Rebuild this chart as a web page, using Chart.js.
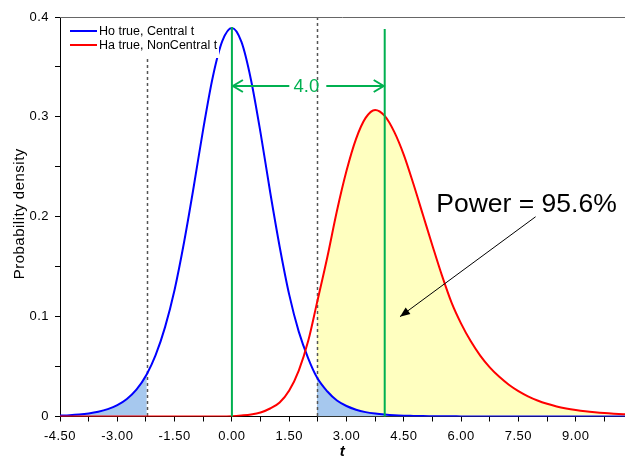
<!DOCTYPE html>
<html lang="en">
<head>
<meta charset="UTF-8">
<title>Power of the t test</title>
<script src="https://cdn.jsdelivr.net/npm/chart.js@4.4.1/dist/chart.umd.min.js"></script>
<style>
  body { margin: 0; background: #fff; }
  #wrap { width: 625px; height: 459px; }
</style>
</head>
<body>
<div id="wrap"><canvas id="powerChart" width="625" height="459"></canvas></div>
<script>
const tValues = [-4.5, -4.25, -4, -3.75, -3.5, -3.25, -3, -2.75, -2.5, -2.228,
  -2, -1.75, -1.5, -1.25, -1, -0.75, -0.5, -0.25, 0, 0.25, 0.5, 0.75, 1, 1.25, 1.5, 1.75, 2,
  2.228, 2.5, 2.75, 3, 3.25, 3.5, 3.75, 4, 4.25, 4.5, 4.75, 5, 5.25, 5.5, 5.75, 6, 6.25, 6.5,
  6.75, 7, 7.25, 7.5, 7.75, 8, 8.25, 8.5, 8.75, 9, 9.25, 9.5, 9.75, 10, 10.25, 10.5];

// Ho true, central t
const centralT = [0.0009, 0.0013, 0.0020, 0.0031, 0.0048, 0.0074, 0.0114, 0.0176, 0.0269, 0.0424,
  0.0611, 0.0895, 0.127, 0.175, 0.230, 0.288, 0.340, 0.376, 0.389, 0.375, 0.337, 0.284, 0.225, 0.170, 0.122, 0.085, 0.058,
  0.039, 0.025, 0.016, 0.0105, 0.0068, 0.0044, 0.0029, 0.0019, 0.0012, 0.0008, 0.0006, 0.0004, 0.0003, 0.0002, 0.0002, 0.0001, 0.0001, 0.0001,
  0.0001, 0, 0, 0, 0, 0, 0, 0, 0, 0, 0, 0, 0, 0, 0, 0];

// Ha true, noncentral t
const nonCentralT = [0, 0, 0, 0, 0, 0, 0, 0, 0, 0,
  0, 0, 0, 0, 0, 0, 0, 0, 0.0003, 0.001, 0.002, 0.004, 0.008, 0.014, 0.026, 0.046, 0.076,
  0.114, 0.160, 0.206, 0.246, 0.278, 0.299, 0.307, 0.301, 0.285, 0.262, 0.233, 0.202, 0.171, 0.141, 0.114, 0.093, 0.0755, 0.061,
  0.0492, 0.0397, 0.0318, 0.0254, 0.0202, 0.016, 0.0127, 0.0101, 0.0081, 0.0065, 0.0052, 0.0042, 0.0034, 0.0028, 0.0023, 0.0019];

const xTickValues = [-4.5, -3.75, -3, -2.25, -1.5, -0.75, 0, 0.75, 1.5, 2.25, 3, 3.75, 4.5, 5.25, 6, 6.75, 7.5, 8.25, 9, 9.75];
const yTickValues = [0, 0.05, 0.1, 0.15, 0.2, 0.25, 0.3, 0.35, 0.4];

const critT = 2.228;     // two-sided 5% critical value
const shift = 4.0;       // distance between the two centres
const powerText = 'Power = 95.6%';
const yTitle = 'Probability density';

const FONT = "'Liberation Sans', Arial, sans-serif";

function pts(ys, keep) {
  const out = [];
  tValues.forEach((t, i) => { if (!keep || keep(t)) out.push({ x: t, y: ys[i] }); });
  return out;
}

function arrowHead(ctx, x, y, ang, len, half, filled) {
  const bx = x - Math.cos(ang) * len, by = y - Math.sin(ang) * len;
  const nx = -Math.sin(ang) * half, ny = Math.cos(ang) * half;
  ctx.beginPath();
  ctx.moveTo(bx + nx, by + ny);
  ctx.lineTo(x, y);
  ctx.lineTo(bx - nx, by - ny);
  if (filled) { ctx.closePath(); ctx.fill(); } else ctx.stroke();
}

const overlay = {
  id: 'overlay',
  beforeDraw(chart) {
    // excel-ish loose spacing for the tick labels
    chart.ctx.letterSpacing = '0.5px';
  },
  beforeDatasetDraw(chart, args) {
    // dotted critical-value lines, over the shading but under the curves
    if (args.index !== 1) return;
    const { ctx, chartArea: ca, scales: { x } } = chart;
    ctx.save();
    ctx.strokeStyle = '#555';
    ctx.lineWidth = 1.5;
    ctx.setLineDash([3, 3]);
    [-critT, critT].forEach(v => {
      const px = Math.round(x.getPixelForValue(v)) + 0.5;
      ctx.beginPath();
      ctx.moveTo(px, ca.top);
      ctx.lineTo(px, ca.bottom);
      ctx.stroke();
    });
    ctx.restore();
  },
  afterDatasetsDraw(chart) {
    const { ctx, chartArea: ca, scales: { x, y } } = chart;
    ctx.save();
    ctx.letterSpacing = '0px';

    // top frame line
    ctx.strokeStyle = '#666';
    ctx.lineWidth = 1;
    ctx.beginPath();
    ctx.moveTo(ca.left, ca.top + 0.5);
    ctx.lineTo(ca.right, ca.top + 0.5);
    ctx.stroke();

    // legend box (white, hides what is behind it)
    ctx.fillStyle = '#fff';
    ctx.fillRect(ca.left + 1, ca.top + 1, 158, 40);
    ctx.lineWidth = 2;
    ctx.font = '12.5px ' + FONT;
    ctx.textBaseline = 'middle';
    ctx.fillStyle = '#000';
    [['#0000ff', 'Ho true, Central t', 14], ['#ff0000', 'Ha true, NonCentral t', 28]].forEach(([c, txt, dy]) => {
      ctx.strokeStyle = c;
      ctx.beginPath();
      ctx.moveTo(ca.left + 10, ca.top + dy);
      ctx.lineTo(ca.left + 37, ca.top + dy);
      ctx.stroke();
      ctx.fillText(txt, ca.left + 39, ca.top + dy + 0.5);
    });

    // green markers at the two centres
    const g = '#00b050';
    const x0 = x.getPixelForValue(0), x4 = x.getPixelForValue(shift);
    ctx.strokeStyle = g;
    ctx.fillStyle = g;
    ctx.lineWidth = 2;
    ctx.beginPath();
    ctx.moveTo(x0, y.getPixelForValue(0.39)); ctx.lineTo(x0, ca.bottom);
    ctx.moveTo(x4, y.getPixelForValue(0.388)); ctx.lineTo(x4, ca.bottom);
    ctx.stroke();

    const ya = Math.round(y.getPixelForValue(0.331));
    const xc = (x0 + x4) / 2 - 2;
    ctx.beginPath();
    ctx.moveTo(x0 + 1, ya); ctx.lineTo(xc - 17, ya);
    ctx.moveTo(xc + 20, ya); ctx.lineTo(x4 - 1, ya);
    ctx.stroke();
    arrowHead(ctx, x0 + 1, ya, Math.PI, 10, 6, false);
    arrowHead(ctx, x4 - 1, ya, 0, 10, 6, false);
    ctx.font = '18.5px ' + FONT;
    ctx.textAlign = 'center';
    ctx.fillText(shift.toFixed(1), xc, ya + 1);

    // power annotation
    ctx.fillStyle = '#000';
    ctx.strokeStyle = '#000';
    ctx.font = '26.5px ' + FONT;
    ctx.textAlign = 'left';
    ctx.textBaseline = 'alphabetic';
    ctx.fillText(powerText, x.getPixelForValue(5.35), y.getPixelForValue(0.205));
    const ax1 = x.getPixelForValue(7.95), ay1 = y.getPixelForValue(0.2);
    const ax2 = x.getPixelForValue(4.4), ay2 = y.getPixelForValue(0.1);
    ctx.lineWidth = 1;
    ctx.beginPath();
    ctx.moveTo(ax1, ay1); ctx.lineTo(ax2, ay2);
    ctx.stroke();
    arrowHead(ctx, ax2, ay2, Math.atan2(ay2 - ay1, ax2 - ax1), 10, 4, true);

    // y axis title
    ctx.translate(20, (ca.top + ca.bottom) / 2 - 3);
    ctx.rotate(-Math.PI / 2);
    ctx.letterSpacing = '0.5px';
    ctx.font = '15px ' + FONT;
    ctx.textAlign = 'center';
    ctx.textBaseline = 'middle';
    ctx.fillText(yTitle, 0, 0);

    ctx.restore();
  }
};

new Chart(document.getElementById('powerChart'), {
  type: 'line',
  data: {
    datasets: [
      { label: 'Ha true, NonCentral t', data: pts(nonCentralT), borderColor: '#ff0000', borderWidth: 2,
        pointRadius: 0, fill: false, order: 0 },
      { label: 'Ho true, Central t', data: pts(centralT), borderColor: '#0000ff', borderWidth: 2,
        pointRadius: 0, fill: false, order: 1 },
      { label: 'alpha left', data: pts(centralT, t => t <= -critT), borderWidth: 0, pointRadius: 0,
        backgroundColor: '#a6c8ee', fill: 'origin', order: 2 },
      { label: 'alpha right', data: pts(centralT, t => t >= critT), borderWidth: 0, pointRadius: 0,
        backgroundColor: '#a6c8ee', fill: 'origin', order: 2 },
      { label: 'power', data: pts(nonCentralT, t => t >= critT), borderWidth: 0, pointRadius: 0,
        backgroundColor: '#ffffc0', fill: 'origin', order: 3 }
    ]
  },
  options: {
    responsive: false,
    animation: false,
    events: [],
    cubicInterpolationMode: 'monotone',
    layout: { padding: { top: 17, right: 0, left: 0, bottom: 0 } },
    plugins: { legend: { display: false }, tooltip: { enabled: false } },
    scales: {
      x: {
        type: 'linear', min: -4.5, max: 10.29,
        afterBuildTicks: s => { s.ticks = xTickValues.map(v => ({ value: v })); },
        afterFit: s => { s.height = 42.5; },
        ticks: { autoSkip: false, maxRotation: 0, padding: 7, color: '#000', font: { family: FONT, size: 13 },
          callback: (v, i) => i % 2 === 0 ? Number(v).toFixed(2) : '' },
        grid: { drawOnChartArea: false, drawTicks: true, tickLength: 5, color: '#000' },
        border: { color: '#000', width: 1 },
        title: { display: true, text: 't', color: '#000', padding: { top: 0, bottom: 0 },
          font: { family: FONT, size: 15, style: 'italic', weight: 'bold', lineHeight: 1 } }
      },
      y: {
        min: 0, max: 0.4,
        afterBuildTicks: s => { s.ticks = yTickValues.map(v => ({ value: v })); },
        afterFit: s => { s.width = 60; },
        ticks: { autoSkip: false, padding: 6, color: '#000', font: { family: FONT, size: 13 },
          callback: (v, i) => i % 2 === 0 ? (v === 0 ? '0' : Number(v).toFixed(1)) : '' },
        grid: { drawOnChartArea: false, drawTicks: true, tickLength: 5, color: '#000' },
        border: { color: '#000', width: 1 }
      }
    }
  },
  plugins: [overlay]
});
</script>
</body>
</html>
